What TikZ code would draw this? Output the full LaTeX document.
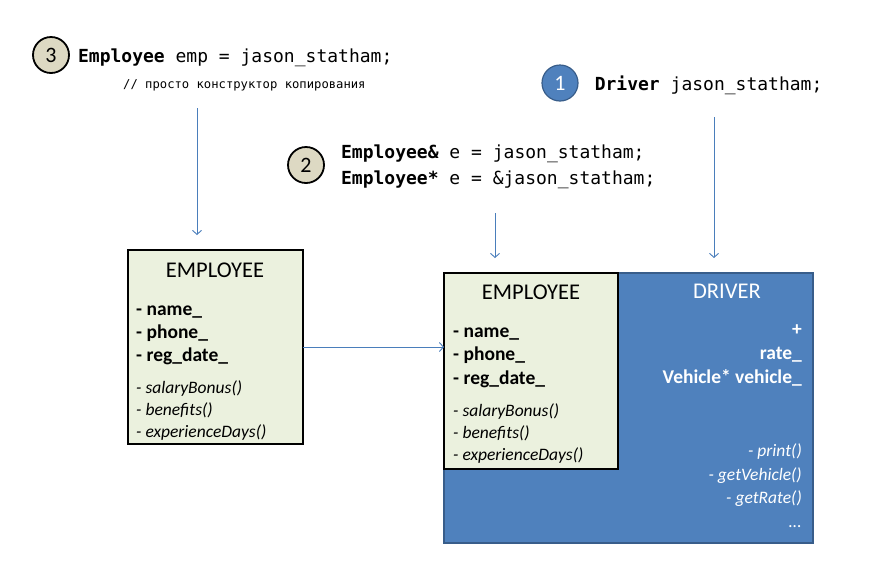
\documentclass[tikz,border=0pt]{standalone}
\usepackage{fontspec}
\setmainfont{Carlito}
\newfontfamily\codefont{DejaVu Sans Mono}
\usetikzlibrary{arrows.meta,positioning}
\definecolor{clsFill}{HTML}{EBF1DE}
\definecolor{drvBlue}{HTML}{4F81BD}
\definecolor{drvLine}{HTML}{385D8A}
\definecolor{numBeige}{HTML}{DDD9C3}
\definecolor{arrBlue}{HTML}{4A7EBB}

\begin{document}
\begin{tikzpicture}[x=1pt,y=-1pt]
\tikzset{
  cls/.style={rectangle, draw=black, line width=2pt, fill=clsFill, anchor=north west,
              inner sep=0pt, outer sep=0pt},
  drv/.style={rectangle, draw=drvLine, line width=1.5pt, fill=drvBlue, anchor=north west,
              inner sep=0pt, outer sep=0pt},
  num/.style={circle, draw=black, line width=1.8pt, fill=numBeige, minimum size=36pt,
              inner sep=0pt, font=\fontsize{22}{26}\selectfont},
  numb/.style={num, draw=drvLine, fill=drvBlue, text=white, line width=1.2pt},
  code/.style={inner sep=0pt, align=left, font=\codefont\fontsize{18}{26}\selectfont},
  ttl/.style={anchor=base, inner sep=0pt, font=\fontsize{22.5}{26}\selectfont},
  fld/.style={anchor=base west, inner sep=0pt, font=\bfseries\fontsize{19.5}{23}\selectfont},
  mth/.style={anchor=base west, inner sep=0pt, font=\itshape\fontsize{17.5}{20}\selectfont},
  ar/.style={-{Straight Barb[length=4pt,width=9pt]}, draw=arrBlue, line width=0.9pt}
}
\useasboundingbox (0,0) rectangle (872,571);

% Code lines
\node[num] (n3) at (51,55) {3};
\node[code, right=8pt of n3, yshift=-3pt] (c3) {\textbf{Employee} emp = jason\_statham;};
\node[code, anchor=base west, font=\codefont\fontsize{12.2}{14}\selectfont] (cmt) at (123,88)
 {// просто конструктор копирования};
\node[num] (n2) at (306,165) {2};
\node[code, right=16pt of n2, yshift=-2pt] (c2) {\textbf{Employee\&} e = jason\_statham;\\\textbf{Employee*} e = \&jason\_statham;};
\node[numb] (n1) at (560,83) {1};
\node[code, right=16pt of n1, yshift=-2pt] (c1) {\textbf{Driver} jason\_statham;};

% Left class
\node[cls, minimum width=175pt, minimum height=194pt] (emp1) at (128,250) {};
\node[ttl] (emp1t) at (215,277) {EMPLOYEE};
\node[fld] (emp1f1) at (136,315) {- name\_};
\node[fld] (emp1f2) at (136,338) {- phone\_};
\node[fld] (emp1f3) at (136,361) {- reg\_date\_};
\node[mth] (emp1m1) at (136,393) {- salaryBonus()};
\node[mth] (emp1m2) at (136,415) {- benefits()};
\node[mth] (emp1m3) at (136,437) {- experienceDays()};

% Driver with its employee part
\node[drv, minimum width=369pt, minimum height=270pt] (drv) at (444,273) {};
\node[ttl, text=white] (drvt) at (727,298) {DRIVER};
\node[fld, anchor=base east, text=white] (drvf1) at (802,335) {+};
\node[fld, anchor=base east, text=white] (drvf2) at (802,359) {rate\_};
\node[fld, anchor=base east, text=white] (drvf3) at (802,383) {Vehicle* vehicle\_};
\node[mth, anchor=base east, text=white] (drvm1) at (802,456) {- print()};
\node[mth, anchor=base east, text=white] (drvm2) at (802,480) {- getVehicle()};
\node[mth, anchor=base east, text=white] (drvm3) at (802,503) {- getRate()};
\node[mth, anchor=base east, text=white] (drvm4) at (802,527) {...};

\node[cls, minimum width=174pt, minimum height=196pt] (emp2) at (444,273) {};
\node[ttl] (emp2t) at (531,299) {EMPLOYEE};
\node[fld] (emp2f1) at (453,337) {- name\_};
\node[fld] (emp2f2) at (453,360) {- phone\_};
\node[fld] (emp2f3) at (453,384) {- reg\_date\_};
\node[mth] (emp2m1) at (453,416) {- salaryBonus()};
\node[mth] (emp2m2) at (453,438) {- benefits()};
\node[mth] (emp2m3) at (453,460) {- experienceDays()};

% Arrows
\coordinate (a3) at (197,108);
\coordinate (b3) at (197,235);
\coordinate (a2) at (495,213);
\coordinate (b2) at (495,258);
\coordinate (a1) at (714,117);
\coordinate (b1) at (714,258);
\draw[ar] (a3) -- (b3);
\draw[ar] (a2) -- (b2);
\draw[ar] (a1) -- (b1);
\draw[ar] (emp1.east) -- (emp1.east -| emp2.west);
\end{tikzpicture}
\end{document}
